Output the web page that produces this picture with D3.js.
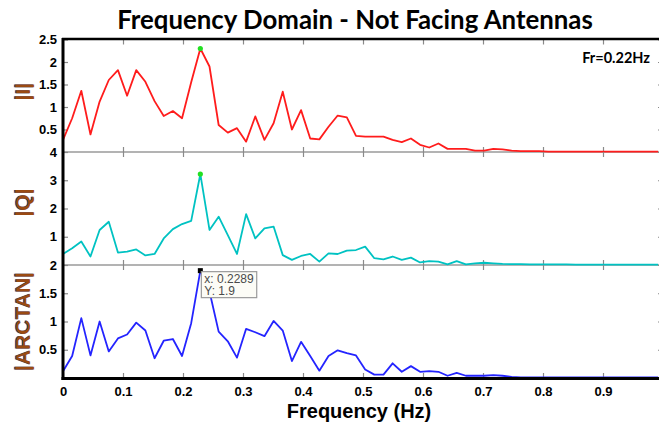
<!DOCTYPE html>
<html>
<head>
<meta charset="utf-8">
<script src="https://cdn.jsdelivr.net/npm/d3@7"></script>
<style>
  html, body { margin: 0; padding: 0; background: #fff; }
  svg { display: block; }
</style>
</head>
<body>
<script>
// Frequency grid (Hz) of the spectrum bins
const freqStep = 0.01526;
const binCount = 66;

// |I| magnitude spectrum
const magI = [
  0.27, 0.75, 1.36, 0.39, 1.12, 1.60, 1.82, 1.25, 1.82, 1.56,
  1.13, 0.80, 0.91, 0.75, 1.55, 2.30, 1.90, 0.60, 0.43, 0.53,
  0.23, 0.79, 0.27, 0.64, 1.34, 0.50, 0.93, 0.30, 0.28, 0.56,
  0.81, 0.77, 0.36, 0.34, 0.34, 0.34, 0.27, 0.22, 0.30, 0.16,
  0.10, 0.19, 0.07, 0.07, 0.07, 0.03, 0.03, 0.07, 0.06, 0.03,
  0.02, 0.02, 0.02, 0.01, 0.01, 0.01, 0.01, 0.01, 0.01, 0.01,
  0.01, 0.01, 0.01, 0.01, 0.01, 0.01
];

// |Q| magnitude spectrum
const magQ = [
  0.39, 0.59, 0.83, 0.30, 1.24, 1.53, 0.44, 0.47, 0.55, 0.34,
  0.39, 0.94, 1.27, 1.45, 1.56, 3.22, 1.24, 1.71, 1.06, 0.39,
  1.80, 0.94, 1.30, 1.36, 0.35, 0.18, 0.32, 0.39, 0.12, 0.41,
  0.39, 0.51, 0.53, 0.65, 0.24, 0.20, 0.30, 0.18, 0.26, 0.09,
  0.14, 0.12, 0.02, 0.14, 0.02, 0.06, 0.08, 0.06, 0.04, 0.03,
  0.03, 0.02, 0.02, 0.02, 0.02, 0.02, 0.01, 0.01, 0.01, 0.01,
  0.01, 0.01, 0.01, 0.01, 0.01, 0.01
];

// |ARCTAN| magnitude spectrum
const magArctan = [
  0.12, 0.39, 1.06, 0.40, 1.00, 0.47, 0.70, 0.77, 0.98, 0.84,
  0.35, 0.66, 0.69, 0.39, 0.97, 1.90, 1.53, 0.82, 0.65, 0.36,
  0.87, 0.81, 0.74, 1.01, 0.84, 0.30, 0.64, 0.39, 0.13, 0.39,
  0.49, 0.44, 0.40, 0.15, 0.06, 0.06, 0.26, 0.11, 0.21, 0.11,
  0.12, 0.11, 0.04, 0.09, 0.04, 0.04, 0.04, 0.05, 0.04, 0.02,
  0.01, 0.01, 0.01, 0.01, 0.01, 0.01, 0.01, 0.01, 0.01, 0.01,
  0.01, 0.01, 0.01, 0.01, 0.01, 0.01
];

// Axis ticks
const xTicks = [0, 0.1, 0.2, 0.3, 0.4, 0.5, 0.6, 0.7, 0.8, 0.9];
const yTicksI = [0.5, 1, 1.5, 2, 2.5];
const yTicksQ = [1, 2, 3, 4];
const yTicksArctan = [0.5, 1, 1.5, 2];

const peakIndex = 15;
const titleText = "Frequency Domain - Not Facing Antennas";
const fsText = "Fr=0.22Hz";

const freq = d3.range(binCount).map(i => i * freqStep);

const W = 659, H = 425;
const svg = d3.select("body").append("svg").attr("width", W).attr("height", H);

const left = 63, right = 663;
const x = d3.scaleLinear().domain([0, 1]).range([left, right]);

const panels = [
  { name: "|I|", data: magI, domain: [0, 2.5], top: 39.5, bottom: 152, ticks: yTicksI, color: "#ff1c1c", peak: true },
  { name: "|Q|", data: magQ, domain: [0, 4], top: 152, bottom: 265, ticks: yTicksQ, color: "#00c2c2", peak: true },
  { name: "|ARCTAN|", data: magArctan, domain: [0, 2], top: 265, bottom: 378, ticks: yTicksArctan, color: "#2424ff", peak: false }
];

const tickGrey = "#8a8a8a";
const labelFont = "'Liberation Sans', Arial, sans-serif";

panels.forEach((p, pi) => {
  p.y = d3.scaleLinear().domain(p.domain).range([p.bottom, p.top]);
});

// Panel separators
svg.append("line").attr("x1", left).attr("x2", W).attr("y1", 152).attr("y2", 152)
  .attr("stroke", "#9a9a9a").attr("stroke-width", 1.5);
svg.append("line").attr("x1", left).attr("x2", W).attr("y1", 265).attr("y2", 265)
  .attr("stroke", "#9a9a9a").attr("stroke-width", 1.5);

panels.forEach((p, pi) => {
  const g = svg.append("g");

  // left axis: inward ticks with labels
  const ax = g.append("g").attr("transform", `translate(${left},0)`)
    .call(d3.axisLeft(p.y).tickValues(p.ticks).tickSize(-5).tickPadding(6).tickFormat(d3.format("")));
  ax.select(".domain").remove();
  ax.selectAll("line").attr("stroke", tickGrey).attr("stroke-width", 1.2);
  ax.selectAll("text").attr("font-family", labelFont).attr("font-weight", "bold")
    .attr("font-size", 13).attr("fill", "#000");

  // right axis: inward ticks
  const ar = g.append("g").attr("transform", `translate(${right},0)`)
    .call(d3.axisRight(p.y).tickValues(p.ticks).tickSize(-5).tickFormat(""));
  ar.select(".domain").remove();
  ar.selectAll("line").attr("stroke", tickGrey).attr("stroke-width", 1.2);

  // top and bottom tick marks
  const at = g.append("g").attr("transform", `translate(0,${p.top})`)
    .call(d3.axisTop(x).tickValues(xTicks.slice(1)).tickSize(-5).tickFormat(""));
  at.select(".domain").remove();
  at.selectAll("line").attr("stroke", tickGrey).attr("stroke-width", 1.2);

  const ab = g.append("g").attr("transform", `translate(0,${p.bottom})`)
    .call(d3.axisBottom(x).tickValues(pi === 2 ? xTicks : xTicks.slice(1)).tickSize(-5).tickPadding(9)
      .tickFormat(pi === 2 ? d3.format("") : ""));
  ab.select(".domain").remove();
  ab.selectAll("line").attr("stroke", tickGrey).attr("stroke-width", 1.2);
  ab.selectAll("text").attr("font-family", labelFont).attr("font-weight", "bold")
    .attr("font-size", 13).attr("fill", "#000");

  // spectrum line
  const line = d3.line().x((d, i) => x(freq[i])).y(d => p.y(d));
  g.append("path").datum(p.data).attr("d", line)
    .attr("fill", "none").attr("stroke", p.color).attr("stroke-width", 1.8)
    .attr("stroke-linejoin", "round");

  // y label (blue fringe under brown text)
  const cy = (p.top + p.bottom) / 2 + (pi === 0 ? -4 : pi === 1 ? -6 : 0);
  const lab = g.append("g").attr("transform", `translate(30,${cy}) rotate(-90)`);
  lab.append("text").attr("x", 0).attr("y", -1.3).attr("text-anchor", "middle")
    .attr("font-family", labelFont).attr("font-weight", "bold").attr("font-size", 21)
    .attr("fill", "#1b3f8a").text(p.name);
  lab.append("text").attr("x", 0).attr("y", 0).attr("text-anchor", "middle")
    .attr("font-family", labelFont).attr("font-weight", "bold").attr("font-size", 21)
    .attr("fill", "#9a4a12").text(p.name);

  if (p.peak) {
    g.append("circle").attr("cx", x(freq[peakIndex])).attr("cy", p.y(p.data[peakIndex]))
      .attr("r", 2.6).attr("fill", "#22e022");
  }
});

// Frame: black top, left and bottom axes
svg.append("line").attr("x1", left - 1).attr("x2", W).attr("y1", 39).attr("y2", 39)
  .attr("stroke", "#000").attr("stroke-width", 2.5);
svg.append("line").attr("x1", left).attr("x2", left).attr("y1", 38).attr("y2", 380)
  .attr("stroke", "#000").attr("stroke-width", 3);
svg.append("line").attr("x1", left - 1.5).attr("x2", W).attr("y1", 378.5).attr("y2", 378.5)
  .attr("stroke", "#000").attr("stroke-width", 3);

// Data tip on the |ARCTAN| peak
const pA = panels[2];
const tipX = x(freq[peakIndex]), tipY = pA.y(magArctan[peakIndex]);
svg.append("rect").attr("x", tipX - 2.5).attr("y", tipY - 2.5).attr("width", 5).attr("height", 5)
  .attr("fill", "#000");
const tip = svg.append("g").attr("transform", `translate(${tipX + 1},${tipY + 1})`);
const tipBox = tip.append("rect").attr("x", 0).attr("y", 0).attr("height", 26)
  .attr("fill", "#fcfcf6").attr("stroke", "#9a9a9a").attr("stroke-width", 1.2);
const t1 = tip.append("text").attr("x", 3).attr("y", 11)
  .attr("font-family", labelFont).attr("font-size", 12).attr("fill", "#4a4a4a")
  .text("x: " + d3.format(".4f")(freq[peakIndex]));
const t2 = tip.append("text").attr("x", 3).attr("y", 23.5)
  .attr("font-family", labelFont).attr("font-size", 12).attr("fill", "#4a4a4a")
  .text("Y: " + d3.format(".2~f")(magArctan[peakIndex]));
const tw = Math.max(t1.node().getComputedTextLength(), t2.node().getComputedTextLength());
tipBox.attr("width", tw + 6);

// Title
svg.append("text").attr("x", 355).attr("y", 29).attr("text-anchor", "middle")
  .attr("font-family", "Lato, 'Open Sans', sans-serif").attr("font-weight", "bold")
  .attr("font-size", 25.8).attr("fill", "#000").text(titleText);

// Resonance annotation
svg.append("text").attr("x", 650).attr("y", 63).attr("text-anchor", "end")
  .attr("font-family", "Lato, 'Open Sans', sans-serif").attr("font-weight", "bold")
  .attr("font-size", 14.5).attr("fill", "#000").text(fsText);

// X axis title
svg.append("text").attr("x", 359).attr("y", 418).attr("text-anchor", "middle")
  .attr("font-family", labelFont).attr("font-weight", "bold")
  .attr("font-size", 20).attr("fill", "#000").text("Frequency (Hz)");
</script>
</body>
</html>
